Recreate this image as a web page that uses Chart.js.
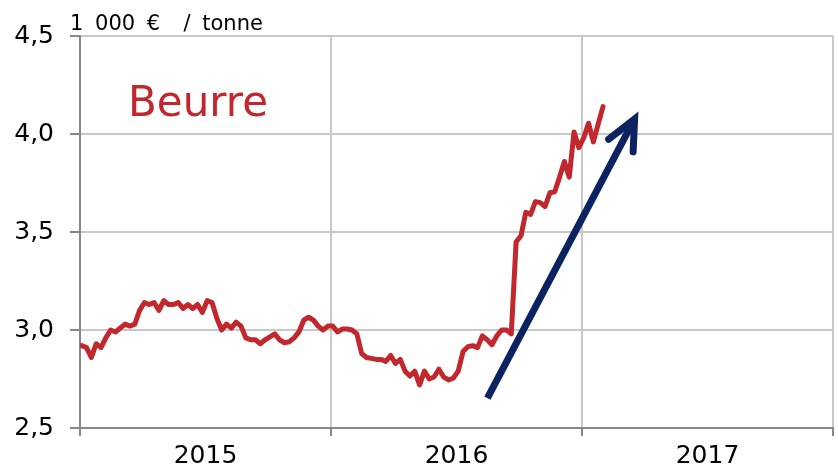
<!DOCTYPE html>
<html>
<head>
<meta charset="utf-8">
<script src="https://cdn.jsdelivr.net/npm/chart.js@4"></script>
<style>
  html, body { margin: 0; padding: 0; background: #fff; }
  #wrap { width: 838px; height: 468px; }
</style>
</head>
<body>
<div id="wrap"><canvas id="butterChart"></canvas></div>
<script>
// weekly butter price, 1000 EUR per tonne, from the first week of 2015
var years = ['2015', '2016', '2017'];
var weeksPerYear = 52;
var firstWeek = 0.35;
var butterPrice = [
  2.92, 2.91, 2.86, 2.93, 2.91, 2.96, 3.00, 2.99, 3.01, 3.03,
  3.02, 3.03, 3.10, 3.14, 3.13, 3.14, 3.10, 3.15, 3.13, 3.13,
  3.14, 3.11, 3.13, 3.11, 3.13, 3.09, 3.15, 3.14, 3.06, 3.00,
  3.03, 3.01, 3.04, 3.02, 2.96, 2.95, 2.95, 2.93, 2.95, 2.965,
  2.98, 2.95, 2.935, 2.94, 2.96, 2.99, 3.05, 3.065, 3.05, 3.02,
  3.00, 3.02, 3.02, 2.99, 3.005, 3.005, 3.00, 2.98, 2.88, 2.86,
  2.855, 2.85, 2.85, 2.84, 2.87, 2.83, 2.85, 2.79, 2.765, 2.79,
  2.72, 2.79, 2.75, 2.76, 2.80, 2.76, 2.745, 2.755, 2.79, 2.89,
  2.915, 2.92, 2.91, 2.97, 2.95, 2.925, 2.97, 3.00, 3.00, 2.98,
  3.45, 3.48, 3.60, 3.59, 3.655, 3.65, 3.63, 3.70, 3.705, 3.78,
  3.86, 3.78, 4.01, 3.93, 3.98, 4.055, 3.96, 4.05, 4.14
];
var yTicks = [2.5, 3.0, 3.5, 4.0, 4.5];
// trend arrow, in weeks / price units
var arrowFrom = [84.4, 2.653];
var arrowTo = [114.9, 4.077];

var red = '#C1272D';
var navy = '#0B2360';
var gridGrey = '#c8c8c8';
var axisGrey = '#878787';
var font = 'DejaVu Sans';

var overlay = {
  id: 'overlay',
  afterDatasetsDraw: function (chart) {
    var ctx = chart.ctx;
    var xs = chart.scales.x, ys = chart.scales.y;
    var x0 = xs.getPixelForValue(arrowFrom[0]), y0 = ys.getPixelForValue(arrowFrom[1]);
    var x1 = xs.getPixelForValue(arrowTo[0]), y1 = ys.getPixelForValue(arrowTo[1]);
    var back = Math.atan2(y0 - y1, x0 - x1);
    ctx.save();
    ctx.strokeStyle = navy;
    ctx.lineWidth = 7;
    ctx.lineCap = 'butt';
    ctx.beginPath();
    ctx.moveTo(x0, y0);
    ctx.lineTo(x1, y1);
    ctx.stroke();
    ctx.lineCap = 'round';
    ctx.lineJoin = 'miter';
    ctx.beginPath();
    ctx.moveTo(x1 + 33 * Math.cos(back + 0.42), y1 + 33 * Math.sin(back + 0.42));
    ctx.lineTo(x1, y1);
    ctx.lineTo(x1 + 33 * Math.cos(back - 0.44), y1 + 33 * Math.sin(back - 0.44));
    ctx.stroke();

    ctx.textAlign = 'left';
    ctx.textBaseline = 'alphabetic';
    ctx.fillStyle = '#000';
    ctx.font = '21px "' + font + '"';
    ctx.wordSpacing = '5px';
    ctx.fillText('1 000 €  / tonne', 70, 29.5);
    ctx.wordSpacing = '0px';
    ctx.fillStyle = red;
    ctx.font = '42px "' + font + '"';
    ctx.fillText('Beurre', 128, 116);
    ctx.restore();
  }
};

function yearBoundary(c) {
  return c.tick && c.tick.value % weeksPerYear === 0;
}

new Chart(document.getElementById('butterChart'), {
  type: 'line',
  data: {
    datasets: [{
      label: 'Beurre',
      data: butterPrice.map(function (v, i) { return { x: firstWeek + i, y: v }; }),
      borderColor: red,
      borderWidth: 5,
      borderCapStyle: 'round',
      borderJoinStyle: 'round',
      pointRadius: 0,
      tension: 0
    }]
  },
  options: {
    responsive: true,
    maintainAspectRatio: false,
    animation: false,
    layout: { padding: { top: 36, right: 2, left: 0, bottom: 0 } },
    plugins: { legend: { display: false }, tooltip: { enabled: false } },
    scales: {
      x: {
        type: 'linear',
        min: 0,
        max: years.length * weeksPerYear,
        afterBuildTicks: function (scale) {
          var t = [];
          for (var i = 0; i <= years.length * 2; i++) t.push({ value: i * weeksPerYear / 2 });
          scale.ticks = t;
        },
        afterFit: function (scale) { scale.height = 40; },
        grid: {
          color: function (c) { return yearBoundary(c) ? gridGrey : 'rgba(0,0,0,0)'; },
          tickColor: function (c) { return yearBoundary(c) ? axisGrey : 'rgba(0,0,0,0)'; },
          lineWidth: 2,
          tickLength: 8
        },
        border: { color: axisGrey, width: 2 },
        ticks: {
          autoSkip: false,
          maxRotation: 0,
          padding: 5,
          color: '#000',
          font: { family: font, size: 25 },
          callback: function (v) {
            return v % weeksPerYear === 0 ? '' : years[Math.floor(v / weeksPerYear)];
          }
        }
      },
      y: {
        min: yTicks[0],
        max: yTicks[yTicks.length - 1],
        afterBuildTicks: function (scale) {
          scale.ticks = yTicks.map(function (v) { return { value: v }; });
        },
        afterFit: function (scale) { scale.width = 80; },
        grid: { color: gridGrey, lineWidth: 2, tickLength: 10, tickColor: axisGrey },
        border: { color: axisGrey, width: 2 },
        ticks: {
          padding: 16,
          color: '#000',
          font: { family: font, size: 25 },
          callback: function (v) { return v.toFixed(1).replace('.', ','); }
        }
      }
    }
  },
  plugins: [overlay]
});
</script>
</body>
</html>
